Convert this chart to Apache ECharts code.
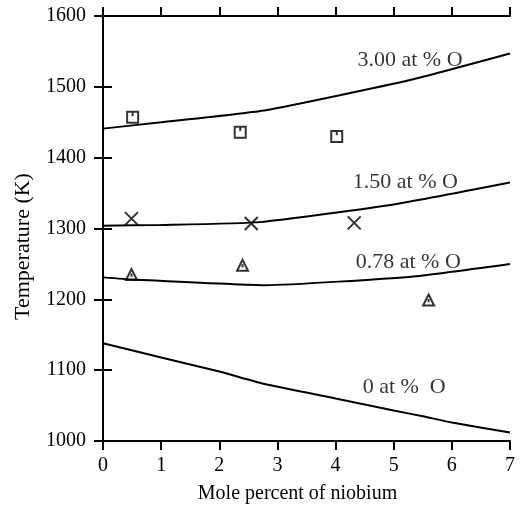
<!DOCTYPE html>
<html><head><meta charset="utf-8">
<script src="https://cdn.jsdelivr.net/npm/echarts@6/dist/echarts.min.js"></script>
<style>html,body{margin:0;padding:0;background:#fff}#c{width:522px;height:506px}</style>
</head><body><div id="c"></div>
<script>
var xTicks = [0,1,2,3,4,5,6,7];
var yTicks = [1000,1100,1200,1300,1400,1500,1600];
var curve0 = [[0,1138],[1,1118],[2,1098],[2.8,1080],[4,1060],[5,1043],[5.5,1035],[6,1026],[7,1012]];
var curve078 = [[0,1231],[0.5,1228],[2.8,1220],[5.3,1232],[7,1250]];
var curve150 = [[0,1304],[1,1305],[2.7,1309],[5,1334],[7,1365]];
var curve300 = [[0,1441],[1,1450],[2.8,1467],[5.3,1510],[7,1547]];
var pts300 = [[0.51,1457],[2.36,1436],[4.02,1430]];
var pts150 = [[0.49,1314],[2.55,1307],[4.32,1308]];
var pts078 = [[0.49,1235],[2.4,1248],[5.6,1199]];
var labels = [
  {name:'3.00 at % O', value:[5.28,1538]},
  {name:'1.50 at % O', value:[5.2,1365]},
  {name:'0.78 at % O', value:[5.25,1253]},
  {name:'0 at %  O', value:[5.18,1076]}
];
var font = 'Liberation Serif, Times New Roman, serif';
var chart = echarts.init(document.getElementById('c'));
function lineS(d){return {type:'line',data:d,symbol:'none',xAxisIndex:0,yAxisIndex:0,lineStyle:{color:'#000',width:2},smooth:0.15,animation:false,z:3};}
function scat(d,sym,size){return {type:'scatter',data:d,symbol:sym,symbolSize:size,xAxisIndex:0,yAxisIndex:0,
  itemStyle:{color:'transparent',borderColor:'#000',borderWidth:2},animation:false,z:4};}
var axLine = {show:true,lineStyle:{color:'#000',width:2}};
var axTick = {show:true,inside:false,length:9,lineStyle:{color:'#000',width:2}};
chart.setOption({
  backgroundColor:'#fff',
  grid:{left:103,right:12,top:16,bottom:65,containLabel:false,outerBoundsMode:'none'},
  xAxis:[
    {type:'value',min:0,max:7,interval:1,position:'bottom',name:'Mole percent of niobium',nameLocation:'middle',nameGap:43,
     nameTextStyle:{fontFamily:font,fontSize:20,color:'#000',padding:[0,18,0,0]},
     axisLine:axLine,axisTick:axTick,splitLine:{show:false},
     axisLabel:{fontFamily:font,fontSize:20,color:'#000',margin:15,formatter:function(v){return String(v);}}},
    {type:'value',min:0,max:7,interval:1,position:'top',axisLine:axLine,axisTick:axTick,splitLine:{show:false},axisLabel:{show:false}}
  ],
  yAxis:[
    {type:'value',min:1000,max:1600,interval:100,position:'left',name:'Temperature (K)',nameLocation:'middle',nameGap:69,
     nameTextStyle:{fontFamily:font,fontSize:22,color:'#000',padding:[0,36,0,0]},
     axisLine:axLine,axisTick:axTick,splitLine:{show:false},
     axisLabel:{fontFamily:font,fontSize:20,color:'#000',margin:17,formatter:function(v){return String(v);}}},
    {type:'value',min:1000,max:1600,interval:100,position:'right',axisLine:axLine,axisTick:axTick,splitLine:{show:false},axisLabel:{show:false}}
  ],
  series:[
    lineS(curve0),lineS(curve078),lineS(curve150),lineS(curve300),
    scat(pts300,'path://M0,0H10V10H0Z M5,0V4',11),
    scat(pts150,'path://M0,0L10,10M10,0L0,10',13),
    scat(pts078,'path://M5,0L10,10H0Z M5,4V7',11),
    {type:'scatter',data:labels,symbolSize:0,xAxisIndex:0,yAxisIndex:0,animation:false,z:5,
     label:{show:true,position:'inside',formatter:'{b}',fontFamily:font,fontSize:22,color:'#000'}}
  ]
});
</script></body></html>
